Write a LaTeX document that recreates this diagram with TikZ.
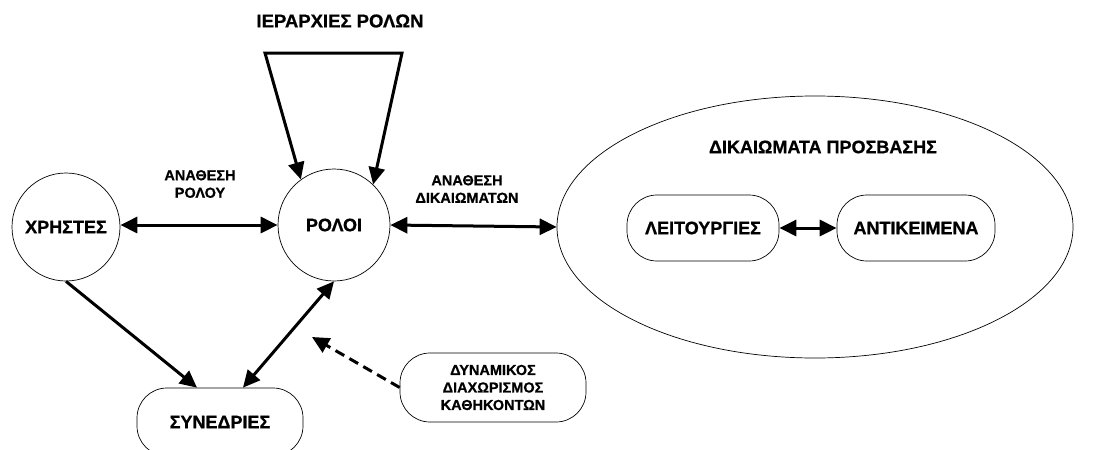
\documentclass[tikz,border=0pt]{standalone}
\usepackage{fontspec}
\setmainfont{Liberation Sans}[BoldFont={Liberation Sans Bold}, BoldFeatures={FakeBold=0.8}]
\usetikzlibrary{arrows.meta,shapes.geometric,calc}
\begin{document}
\begin{tikzpicture}[x=1pt,y=-1pt,
  every node/.style={align=center, inner sep=0pt},
  bigtext/.style={font=\fontsize{18}{21}\selectfont\bfseries},
  smalltext/.style={font=\fontsize{14.5}{17.5}\selectfont\bfseries},
  circ/.style={draw, circle, line width=0.7pt, bigtext},
  pill/.style={draw, rectangle, rounded corners=30pt, line width=0.7pt},
  link/.style={line width=3pt, {Triangle[length=17pt,width=16pt]}-{Triangle[length=17pt,width=16pt]}},
  onelink/.style={line width=3pt, -{Triangle[length=17pt,width=16pt]}},
]
\useasboundingbox (0,0) rectangle (1112,450);
\clip (0,0) rectangle (1112,450);

% main entities
\node[circ, minimum size=108pt] (users) at (66,227) {ΧΡΗΣΤΕΣ};
\node[circ, minimum size=112pt] (roles) at (334,225) {ΡΟΛΟΙ};
\node[pill, bigtext, minimum width=166pt, minimum height=68pt] (sessions) at (220,422) {ΣΥΝΕΔΡΙΕΣ};
\node[pill, smalltext, minimum width=186pt, minimum height=69pt] (sod) at (493,387.5)
  {ΔΥΝΑΜΙΚΟΣ\\ΔΙΑΧΩΡΙΣΜΟΣ\\ΚΑΘΗΚΟΝΤΩΝ};

% access rights group
\node[draw, ellipse, line width=0.7pt, minimum width=516pt, minimum height=262pt] (perms) at (815,227) {};
\node[bigtext] (permtitle) at (823,147) {ΔΙΚΑΙΩΜΑΤΑ ΠΡΟΣΒΑΣΗΣ};
\node[pill, bigtext, minimum width=152pt, minimum height=66pt] (ops) at (703,228) {ΛΕΙΤΟΥΡΓΙΕΣ};
\node[pill, bigtext, minimum width=158pt, minimum height=66pt] (objs) at (916,228) {ΑΝΤΙΚΕΙΜΕΝΑ};

% labels
\node[font=\fontsize{18.5}{21}\selectfont\bfseries] (hier) at (340,21) {ΙΕΡΑΡΧΙΕΣ ΡΟΛΩΝ};
\node[smalltext] (ua) at (200,184) {ΑΝΑΘΕΣΗ\\ΡΟΛΟΥ};
\node[smalltext] (pa) at (467,189) {ΑΝΑΘΕΣΗ\\ΔΙΚΑΙΩΜΑΤΩΝ};

% connectors
\coordinate (hl) at (265,53);
\coordinate (hr) at (402,53);
\coordinate (dashend) at (312,337);
\draw[link] (users.east |- roles.west) -- (roles.west);
\draw[link] (roles.east) -- (perms.west);
\draw[link] (ops.east) -- (objs.west);
\draw[link, line join=miter] (roles.126) -- (hl) -- (hr) -- (roles.46);
\draw[onelink] (users.south) -- ($(sessions.north)+(-23,0)$);
\draw[link] (roles.south) -- ($(sessions.north)+(23,0)$);
\draw[onelink, dash pattern=on 10pt off 6pt] (sod.west) -- (dashend);
\end{tikzpicture}
\end{document}
